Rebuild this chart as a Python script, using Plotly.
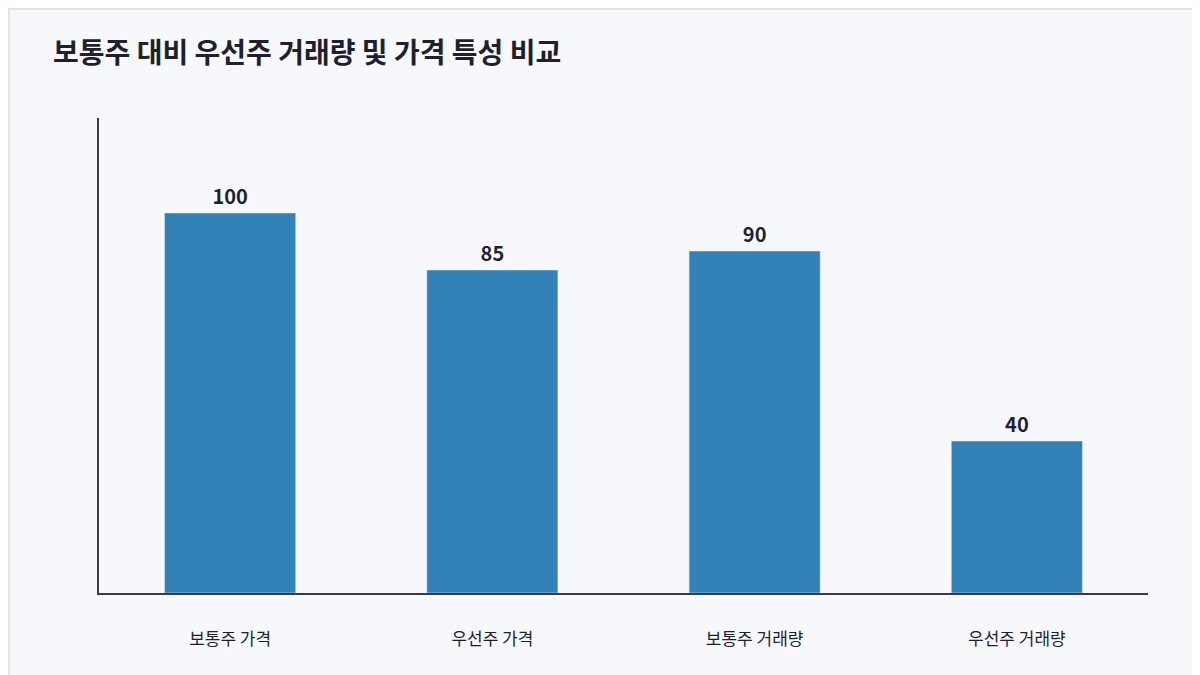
import plotly.graph_objects as go

categories = ["보통주 가격", "우선주 가격", "보통주 거래량", "우선주 거래량"]
values = [100, 85, 90, 40]

W, H = 1200, 675
ml, mr, mt, mb = 91, 60, 110, 90
pw, ph = W - ml - mr, H - mt - mb

fig = go.Figure(go.Bar(
    x=categories, y=values, width=0.5, marker_color="#3282b8",
    text=values, textposition="outside", cliponaxis=False,
    textfont=dict(family="Noto Sans CJK KR", size=20, color="#1f1f2e", weight="bold"),
))
fig.update_layout(
    width=W, height=H, margin=dict(l=ml, r=mr, t=mt, b=mb),
    paper_bgcolor="#f7f8fc", plot_bgcolor="#f7f8fc",
    title=dict(text="<b>보통주 대비 우선주 거래량 및 가격 특성 비교</b>", x=45/W, xanchor="left",
               y=1-45/H, yanchor="middle",
               font=dict(family="Noto Sans CJK KR", size=28, color="#1f1f2e")),
    font=dict(family="Noto Sans CJK KR", color="#1f1f2e"),
    showlegend=False,
    shapes=[dict(type="rect", xref="paper", yref="paper",
                 x0=-(ml-1)/pw, x1=(W-ml-1)/pw, y0=-(mb-1)/ph, y1=(H-mb-1)/ph,
                 line=dict(color="#d8dbe3", width=1.5), fillcolor="rgba(0,0,0,0)", layer="below")],
)
fig.update_xaxes(showline=True, linecolor="#3a3a4a", linewidth=1.5, ticks="",
                 tickfont=dict(size=17), ticklabelstandoff=30, showgrid=False)
fig.update_yaxes(range=[0, 125], showline=True, linecolor="#3a3a4a", linewidth=1.5,
                 showticklabels=False, showgrid=False, zeroline=False, ticks="")
fig.write_html("out.html")
